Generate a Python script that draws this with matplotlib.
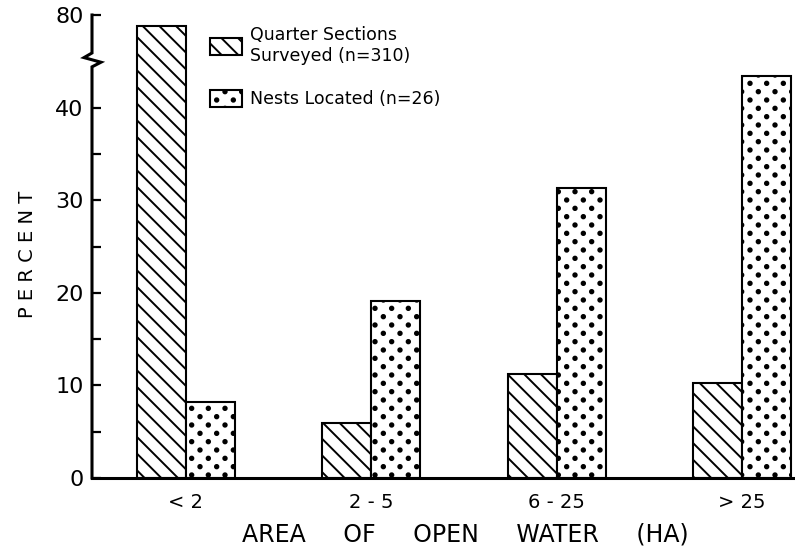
import numpy as np
import matplotlib
matplotlib.use("Agg")
import matplotlib.pyplot as plt
import matplotlib.hatch as mhatch
from matplotlib.path import Path
from matplotlib.lines import Line2D
from matplotlib.ticker import FixedLocator, NullFormatter

# ---------------- data ----------------
categories = ["< 2", "2 - 5", "6 - 25", "> 25"]
surveyed = [72.0, 5.9, 11.2, 10.3]   # Quarter Sections Surveyed (n=310)
nests = [8.2, 19.1, 31.3, 43.4]      # Nests Located (n=26)
series_labels = ["Quarter Sections\nSurveyed (n=310)", "Nests Located (n=26)"]
major_ticks = [0, 10, 20, 30, 40, 80]
minor_ticks = [5, 15, 25, 35]


# ---------------- staggered dot hatch ----------------
class StaggeredDots(mhatch.HatchPatternBase):
    ncols = 6
    nrows = 12
    radius = 0.017

    def __init__(self, hatch, density):
        active = hatch.count('.') > 0
        circle = Path.unit_circle()
        self.shape_vertices = circle.vertices * self.radius
        self.shape_codes = circle.codes
        if active:
            n_even = (self.nrows // 2 + 1) * (self.ncols + 1)
            n_odd = (self.nrows // 2) * self.ncols
            self.num_vertices = (n_even + n_odd) * len(self.shape_vertices)
        else:
            self.num_vertices = 0

    def set_vertices_and_codes(self, vertices, codes):
        vparts, cparts = [], []
        dx = 1.0 / self.ncols
        for row in range(self.nrows + 1):
            if row % 2 == 0:
                cols = np.linspace(0, 1, self.ncols + 1)
            else:
                cols = np.linspace(dx / 2, 1 - dx / 2, self.ncols)
            yy = row / self.nrows
            for xx in cols:
                vparts.append(self.shape_vertices + [xx, yy])
                cparts.append(self.shape_codes)
        np.concatenate(vparts, out=vertices)
        np.concatenate(cparts, out=codes)


mhatch._hatch_types = [StaggeredDots if t is mhatch.SmallFilledCircles else t
                       for t in mhatch._hatch_types]

plt.rcParams['font.family'] = ['DejaVu Sans']
plt.rcParams['hatch.linewidth'] = 1.4
plt.rcParams['hatch.color'] = 'black'


# ---------------- broken y scale ----------------
BRK = 45.0
K = 7.0


def fwd(v):
    v = np.asarray(v, dtype=float)
    return np.where(v <= BRK, v, BRK + (v - BRK) / K)


def inv(u):
    u = np.asarray(u, dtype=float)
    return np.where(u <= BRK, u, BRK + (u - BRK) * K)


fig = plt.figure(figsize=(7.95, 5.47), dpi=100)
ax = fig.add_axes([92 / 795, 1 - 478 / 547, 701 / 795, 463 / 547])
ax.set_yscale('function', functions=(fwd, inv))

x = np.arange(len(categories))
w = 0.264
b1 = ax.bar(x - w / 2, surveyed, width=w, facecolor='white', edgecolor='black',
            linewidth=1.5, hatch='\\\\', label=series_labels[0])
b2 = ax.bar(x + w / 2, nests, width=w, facecolor='white', edgecolor='black',
            linewidth=1.5, hatch='.', label=series_labels[1])

ax.set_xlim(-0.507, 3.275)
ax.set_ylim(0, 80)

# axes styling
for s in ['top', 'right', 'left']:
    ax.spines[s].set_visible(False)
ax.spines['bottom'].set_linewidth(2.2)

# left spine with a break symbol (axes coordinates)
spine_x = [0, 0, 0.0128, -0.0114, 0, 0]
spine_y = [0, 0.888, 0.898, 0.908, 0.918, 1.0]
ax.add_line(Line2D(spine_x, spine_y, transform=ax.transAxes, color='black',
                   linewidth=2.2, clip_on=False, solid_joinstyle='miter'))

ax.yaxis.set_major_locator(FixedLocator(major_ticks))
ax.yaxis.set_minor_locator(FixedLocator(minor_ticks))
ax.yaxis.set_minor_formatter(NullFormatter())
ax.set_yticklabels([str(t) for t in major_ticks])
ax.tick_params(axis='y', which='both', direction='in', length=6.5, width=1.6,
               labelsize=16, pad=6, color='black')
ax.set_xticks(x)
ax.set_xticklabels(categories)
ax.tick_params(axis='x', length=0, labelsize=14, pad=11)

ax.set_xlabel("AREA     OF     OPEN     WATER     (HA)", fontsize=17, va='center')
ax.xaxis.set_label_coords(0.532, -0.123)
ax.set_ylabel("P E R C E N T", fontsize=14, va='center')
ax.yaxis.set_label_coords(-0.0927, 0.482)

ax.legend(handles=[b1, b2], labels=series_labels, fontsize=12.5, frameon=False,
          loc='upper left', bbox_to_anchor=(210 / 795, 1 - 26 / 547),
          bbox_transform=fig.transFigure, borderpad=0, borderaxespad=0,
          handlelength=1.84, handleheight=1.09, handletextpad=0.46,
          labelspacing=1.45)

fig.savefig("out.png", dpi=100)
